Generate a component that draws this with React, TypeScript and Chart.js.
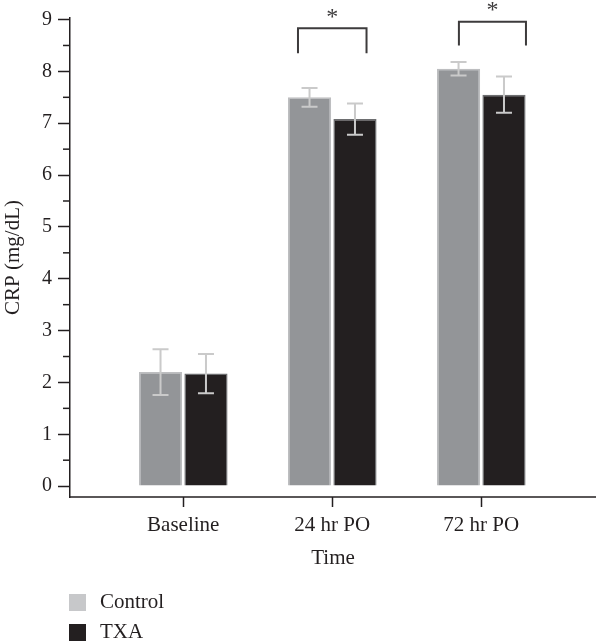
import React, { useEffect, useRef } from 'react';
import { Chart, registerables } from 'chart.js';

Chart.register(...registerables);

const categories = ['Baseline', '24 hr PO', '72 hr PO'];
const seriesNames = ['Control', 'TXA'];
const controlMeans = [2.2, 7.5, 8.05];
const controlErrors = [0.44, 0.18, 0.13];
const txaMeans = [2.17, 7.08, 7.55];
const txaErrors = [0.38, 0.3, 0.35];
const yTickValues = [0, 1, 2, 3, 4, 5, 6, 7, 8, 9];
// significance brackets (x in category-index units, y in mg/dL)
const bracketX1 = [0.77, 1.85];
const bracketX2 = [1.23, 2.3];
const bracketTop = [8.83, 8.96];
const bracketLegEnd = [8.35, 8.5];
const bracketMark = ['*', '*'];

const TEXT = '#231f20';
const FONT = "'Liberation Serif', 'DejaVu Serif', serif";
const barColors = ['#939598', '#231f20'];
const barBorders = ['#bdbec0', '#6d6e70'];
const legendColors = ['#c7c8ca', '#231f20'];
const errorColor = '#cacaca';

const errorBarPlugin = {
  id: 'errorBars',
  afterDatasetsDraw(chart: any) {
    const ctx = chart.ctx;
    const y = chart.scales.y;
    const errs = [controlErrors, txaErrors];
    const means = [controlMeans, txaMeans];
    ctx.save();
    ctx.strokeStyle = errorColor;
    ctx.lineWidth = 2;
    chart.data.datasets.forEach((_: any, di: number) => {
      const meta = chart.getDatasetMeta(di);
      meta.data.forEach((el: any, i: number) => {
        const top = y.getPixelForValue(means[di][i] + errs[di][i]);
        const bot = y.getPixelForValue(means[di][i] - errs[di][i]);
        const x = el.x;
        ctx.beginPath();
        ctx.moveTo(x, top);
        ctx.lineTo(x, bot);
        ctx.moveTo(x - 8, top);
        ctx.lineTo(x + 8, top);
        ctx.moveTo(x - 8, bot);
        ctx.lineTo(x + 8, bot);
        ctx.stroke();
      });
    });
    ctx.restore();
  },
};

const extrasPlugin = {
  id: 'extras',
  afterDraw(chart: any) {
    const ctx = chart.ctx;
    const xs = chart.scales.x;
    const ys = chart.scales.y;
    const area = chart.chartArea;
    ctx.save();
    // x axis line running to the canvas edge
    ctx.strokeStyle = TEXT;
    ctx.lineWidth = 1.5;
    ctx.beginPath();
    ctx.moveTo(area.left, area.bottom);
    ctx.lineTo(chart.width, area.bottom);
    ctx.stroke();
    // minor y ticks
    for (let i = 0; i < yTickValues.length - 1; i++) {
      const v = (yTickValues[i] + yTickValues[i + 1]) / 2;
      const py = ys.getPixelForValue(v);
      ctx.beginPath();
      ctx.moveTo(area.left - 7, py);
      ctx.lineTo(area.left, py);
      ctx.stroke();
    }
    // significance brackets
    ctx.strokeStyle = '#3d3b3c';
    ctx.lineWidth = 2;
    ctx.fillStyle = '#3d3b3c';
    ctx.font = `24px ${FONT}`;
    ctx.textAlign = 'center';
    ctx.textBaseline = 'middle';
    for (let i = 0; i < bracketX1.length; i++) {
      const x1 = xs.getPixelForValue(bracketX1[i]);
      const x2 = xs.getPixelForValue(bracketX2[i]);
      const t = ys.getPixelForValue(bracketTop[i]);
      const b = ys.getPixelForValue(bracketLegEnd[i]);
      ctx.beginPath();
      ctx.moveTo(x1, b);
      ctx.lineTo(x1, t);
      ctx.lineTo(x2, t);
      ctx.lineTo(x2, b);
      ctx.stroke();
      ctx.fillText(bracketMark[i], (x1 + x2) / 2, t - 11);
    }
    // legend
    ctx.textAlign = 'left';
    ctx.textBaseline = 'alphabetic';
    ctx.font = `21px ${FONT}`;
    seriesNames.forEach((name, i) => {
      const top = 594 + i * 30;
      ctx.fillStyle = legendColors[i];
      ctx.fillRect(69, top, 17, 17);
      ctx.fillStyle = TEXT;
      ctx.fillText(name, 100, top + 14);
    });
    ctx.restore();
  },
};

export default function App() {
  const ref = useRef<HTMLCanvasElement | null>(null);
  useEffect(() => {
    document.body.style.margin = '0';
    if (!ref.current) return;
    const chart = new Chart(ref.current, {
      type: 'bar',
      data: {
        datasets: [
          {
            label: seriesNames[0],
            data: controlMeans.map((v, i) => ({ x: i, y: v })),
            backgroundColor: barColors[0],
            borderColor: barBorders[0],
            borderWidth: 1.5,
          },
          {
            label: seriesNames[1],
            data: txaMeans.map((v, i) => ({ x: i, y: v })),
            backgroundColor: barColors[1],
            borderColor: barBorders[1],
            borderWidth: 1.5,
          },
        ],
      },
      options: {
        animation: false,
        responsive: true,
        maintainAspectRatio: false,
        categoryPercentage: 0.61,
        barPercentage: 0.95,
        layout: { padding: { top: 9, right: 0, left: 0, bottom: 0 } },
        plugins: {
          legend: { display: false },
          tooltip: { enabled: false },
        },
        scales: {
          x: {
            type: 'linear',
            offset: false,
            min: -0.76,
            max: 2.77,
            afterBuildTicks: (s: any) => {
              s.ticks = categories.map((_, i) => ({ value: i }));
            },
            afterFit: (s: any) => {
              s.height = 144;
            },
            ticks: {
              callback: (v: any) => categories[v as number],
              color: TEXT,
              font: { family: FONT, size: 21 },
              padding: 6,
              maxRotation: 0,
              autoSkip: false,
            },
            grid: {
              offset: false,
              drawOnChartArea: false,
              drawTicks: true,
              tickLength: 10,
              tickColor: TEXT,
              tickWidth: 1.5,
            },
            border: { display: false },
            title: {
              display: true,
              text: 'Time',
              color: TEXT,
              font: { family: FONT, size: 21 },
              padding: { top: 0, bottom: 70 },
            },
          },
          y: {
            min: -0.21,
            max: 9.03,
            afterBuildTicks: (s: any) => {
              s.ticks = yTickValues.map((v) => ({ value: v }));
            },
            afterFit: (s: any) => {
              s.width = 70;
            },
            ticks: {
              color: TEXT,
              font: { family: FONT, size: 20 },
              padding: 6,
            },
            grid: {
              drawOnChartArea: false,
              drawTicks: true,
              tickLength: 12,
              tickColor: TEXT,
              tickWidth: 1.5,
            },
            border: { color: TEXT, width: 1.5 },
            title: {
              display: true,
              text: 'CRP (mg/dL)',
              color: TEXT,
              font: { family: FONT, size: 21 },
              padding: { top: 1, bottom: 0 },
            },
          },
        },
      } as any,
      plugins: [errorBarPlugin, extrasPlugin],
    });
    return () => chart.destroy();
  }, []);
  return (
    <div style={{ position: 'relative', width: 596, height: 641 }}>
      <canvas ref={ref} />
    </div>
  );
}
